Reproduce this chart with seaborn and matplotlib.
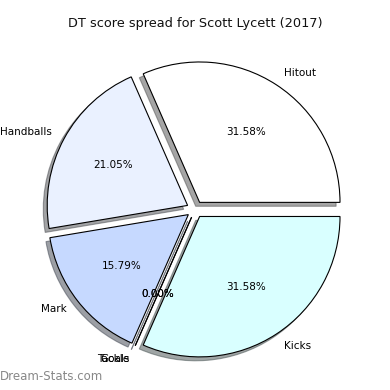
import matplotlib
matplotlib.use("Agg")
import matplotlib.pyplot as plt
import seaborn as sns

sns.set_style("white")
plt.rcParams['font.family'] = ['DejaVu Sans']
plt.rcParams['text.color'] = 'black'

labels = ["Hitout", "Handballs", "Mark", "Tackle", "Goals", "Kicks"]
values = [6, 4, 3, 0, 0, 6]
colors = ["#ffffff", "#eaf1ff", "#c6d9ff", "#c6d9ff", "#c6d9ff", "#d9ffff"]
title = "DT score spread for Scott Lycett (2017)"
watermark = "Dream-Stats.com"

fig = plt.figure(figsize=(3.9, 3.9), dpi=100)
ax = fig.add_axes([0.05, 0.013, 0.9, 0.9])
ax.pie(values, labels=labels, colors=colors, autopct="%1.2f%%",
       explode=[0.06] * len(values), shadow=True,
       wedgeprops=dict(edgecolor="black", linewidth=0.8),
       textprops=dict(fontsize=7.5, color="black"))
ax.set_aspect("equal")
fig.text(0.5, 1 - 24 / 390, title, fontsize=9.3, ha="center", va="center",
         color="#111111")
fig.text(0.0, 0.025, watermark, fontsize=8.5, color="#888888")
fig.savefig("out.png", dpi=100)
